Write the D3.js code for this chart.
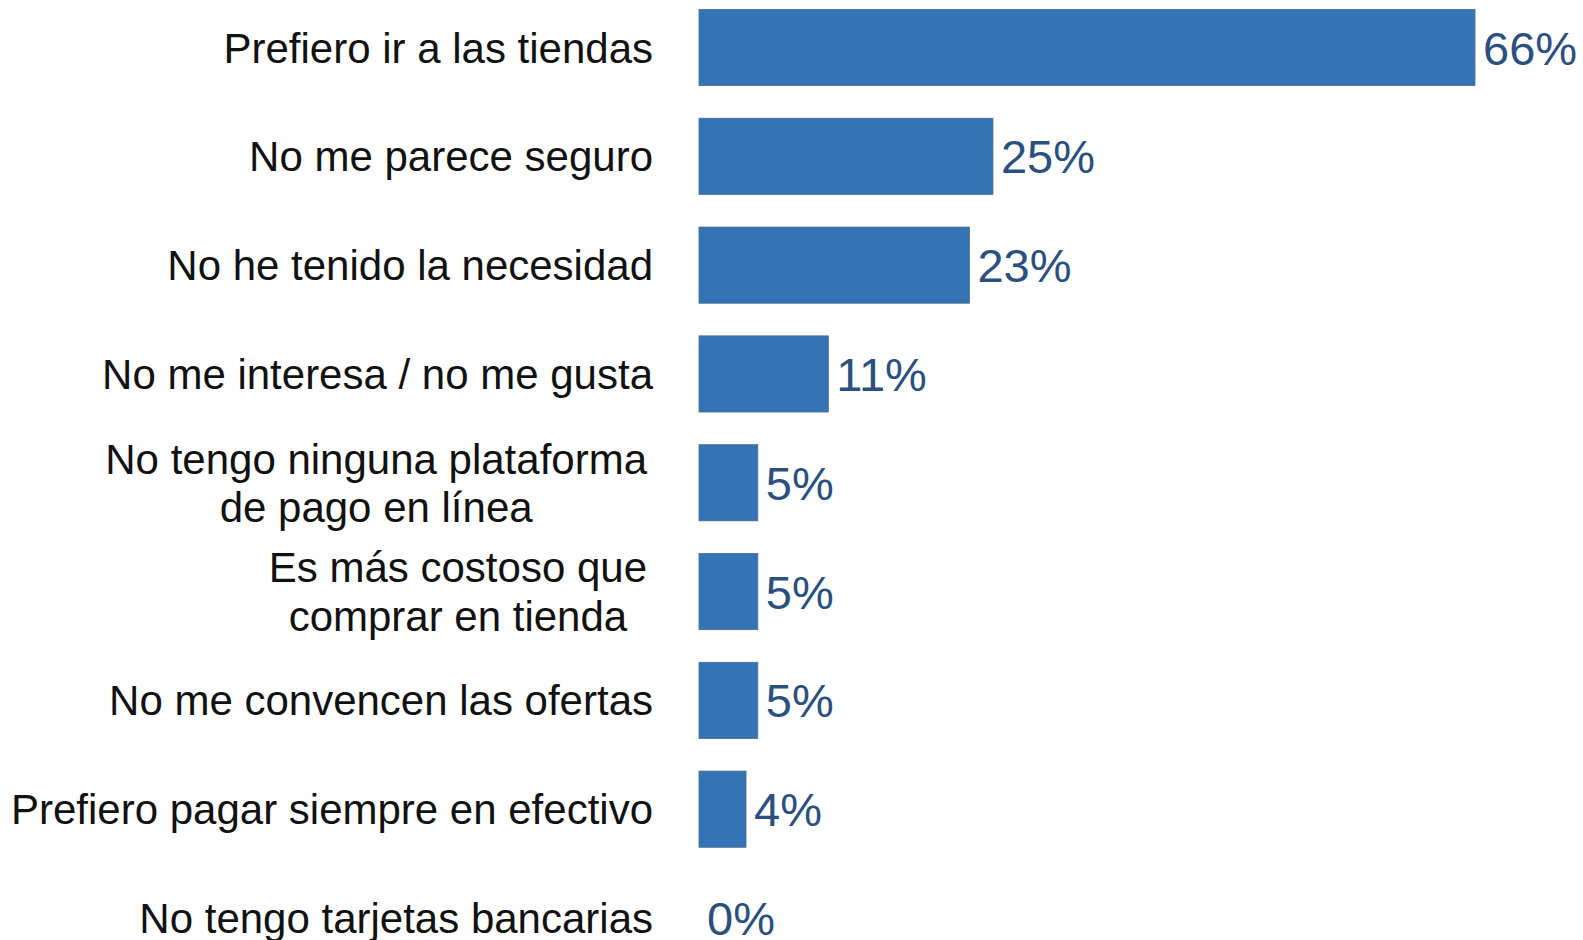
<!DOCTYPE html>
<html>
<head>
<meta charset="utf-8">
<script src="https://cdn.jsdelivr.net/npm/d3@7"></script>
<style>
  html, body { margin: 0; padding: 0; background: #fff; }
  svg { display: block; }
</style>
</head>
<body>
<svg id="chart" width="1583" height="940"></svg>
<script>
// Reasons for not buying online (share of respondents, %)
const categories = [
  ["Prefiero ir a las tiendas"],
  ["No me parece seguro"],
  ["No he tenido la necesidad"],
  ["No me interesa / no me gusta"],
  ["No tengo ninguna plataforma", "de pago en línea"],
  ["Es más costoso que", "comprar en tienda"],
  ["No me convencen las ofertas"],
  ["Prefiero pagar siempre en efectivo"],
  ["No tengo tarjetas bancarias"]
];
const values = [66, 25, 23, 11, 5, 5, 5, 4, 0];
const valueLabels = ["66%", "25%", "23%", "11%", "5%", "5%", "5%", "4%", "0%"];

const svg = d3.select("#chart");
const font = "'Liberation Sans', Arial, Helvetica, sans-serif";

const x = d3.scaleLinear().domain([0, 66]).range([699, 1475]);
const y = d3.scaleBand()
  .domain(d3.range(categories.length))
  .range([-6.9, 972.4])
  .paddingInner(0.3)
  .paddingOuter(0.15);

const rows = svg.selectAll("g.row")
  .data(values.map((v, i) => ({ v, i, lines: categories[i], label: valueLabels[i] })))
  .join("g")
  .attr("class", "row");

// bars
rows.append("rect")
  .attr("x", x(0))
  .attr("y", d => y(d.i))
  .attr("width", d => x(d.v) - x(0))
  .attr("height", y.bandwidth())
  .attr("fill", "#3473b5")
  .attr("stroke", d => d.v > 0 ? "#4d6b8c" : "none")
  .attr("stroke-width", 0.8);

// value labels
rows.append("text")
  .attr("x", d => x(d.v) + 8)
  .attr("y", d => y(d.i) + y.bandwidth() / 2 + 17)
  .attr("font-family", font)
  .attr("font-size", 47)
  .attr("fill", "#2b4f7e")
  .text(d => d.label);

// category labels: single lines right-aligned, wrapped ones centred as a block
const rightEdge = 653;
const lineGap = 48.5;
const labelSize = 42;
rows.each(function(d) {
  const g = d3.select(this);
  const cy = y(d.i) + y.bandwidth() / 2;
  if (d.lines.length === 1) {
    g.append("text")
      .attr("x", rightEdge)
      .attr("y", cy + 15)
      .attr("text-anchor", "end")
      .attr("font-family", font)
      .attr("font-size", labelSize)
      .attr("fill", "#111")
      .text(d.lines[0]);
  } else {
    const t = g.append("text")
      .attr("text-anchor", "middle")
      .attr("font-family", font)
      .attr("font-size", labelSize)
      .attr("fill", "#111");
    const spans = t.selectAll("tspan")
      .data(d.lines)
      .join("tspan")
      .attr("y", (s, k) => cy + 15 + (k - (d.lines.length - 1) / 2) * lineGap)
      .text(s => s);
    let maxW = 0;
    spans.each(function() { maxW = Math.max(maxW, this.getComputedTextLength()); });
    spans.attr("x", rightEdge - 6 - maxW / 2);
  }
});
</script>
</body>
</html>
